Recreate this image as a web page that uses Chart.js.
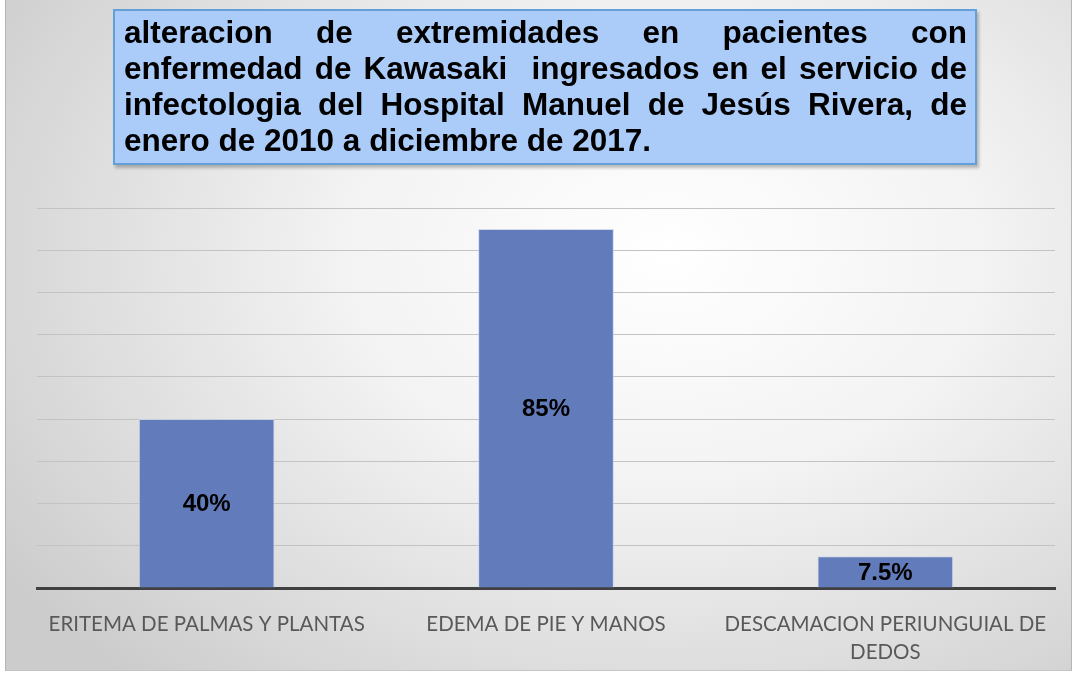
<!DOCTYPE html>
<html>
<head>
<meta charset="utf-8">
<script src="https://cdn.jsdelivr.net/npm/chart.js@4"></script>
<style>
  body { margin: 0; background: #fff; }
  #wrap { position: relative; width: 1075px; height: 673px; overflow: hidden; }
  #panel {
    position: absolute; left: 5px; top: 0; width: 1065px; height: 670px;
    background: radial-gradient(ellipse 75% 85% at 62% 38%, #ffffff 0%, #f3f3f3 40%, #d6d6d6 85%, #cccccc 100%);
    border-left: 1px solid #b5b5b5; border-right: 1px solid #b5b5b5; border-bottom: 1px solid #c5c5c5;
  }
  #titleBox {
    position: absolute; left: 113px; top: 9px; width: 860px; height: 152px;
    background: #abcbf8; border: 2px solid #639fd8;
    box-shadow: 2px 3px 3px rgba(0,0,0,0.25);
  }
  #titleText {
    position: absolute; left: 9px; top: 3px; width: 843px;
    font: bold 31.5px "Liberation Sans", Arial, sans-serif; line-height: 36px;
    color: #000; text-align: justify; text-align-last: left;
  }
  canvas { position: absolute; left: 0; top: 0; }
</style>
</head>
<body>
<div id="wrap">
  <div id="panel"></div>
  <canvas id="firstChart" width="1075" height="673"></canvas>
  <div id="titleBox"><div id="titleText">alteracion de extremidades en pacientes con enfermedad de Kawasaki&nbsp; ingresados en el servicio de infectologia del Hospital Manuel de Jesús Rivera, de enero de 2010 a diciembre de 2017.</div></div>
</div>
<script>
const labels = [
    'ERITEMA DE PALMAS Y PLANTAS',
    'EDEMA DE PIE Y MANOS',
    ['DESCAMACION PERIUNGUIAL DE', 'DEDOS']
];
const values = [40, 85, 7.5];
const valueLabels = ['40%', '85%', '7.5%'];

// labels in the middle of each bar
const barLabels = {
    id: 'barLabels',
    afterDatasetsDraw(chart) {
        const ctx = chart.ctx;
        const meta = chart.getDatasetMeta(0);
        ctx.save();
        ctx.font = 'bold 24px "Liberation Sans", Arial, sans-serif';
        ctx.fillStyle = '#000';
        ctx.textAlign = 'center';
        ctx.textBaseline = 'middle';
        meta.data.forEach((bar, i) => {
            const p = bar.getProps(['x', 'y', 'base'], true);
            ctx.fillText(valueLabels[i], p.x, (p.y + p.base) / 2 + 1);
        });
        ctx.restore();
    }
};

const config = {
    type: 'bar',
    data: {
        labels: labels,
        datasets: [{
            data: values,
            backgroundColor: '#627bbb',
            borderColor: 'rgba(200,210,235,0.8)',
            borderWidth: 1,
            barPercentage: 0.8,
            categoryPercentage: 0.5
        }]
    },
    options: {
        responsive: false,
        animation: false,
        layout: { padding: { top: 208, left: 37, right: 20, bottom: 0 } },
        plugins: {
            legend: { display: false },
            tooltip: { enabled: false }
        },
        scales: {
            x: {
                grid: { display: false },
                border: { color: '#404040', width: 3 },
                afterFit(axis) { axis.height = 85; },
                ticks: {
                    color: '#595959',
                    padding: 14,
                    maxRotation: 0,
                    autoSkip: false,
                    font: { family: 'Lato', size: 20.5, lineHeight: 1.38 }
                }
            },
            y: {
                min: 0,
                max: 90,
                grid: { color: '#c3c3c3', lineWidth: 1, drawTicks: false },
                border: { display: false },
                ticks: { display: false, stepSize: 10 }
            }
        }
    },
    plugins: [barLabels]
};

const firstChart = new Chart(
document.getElementById('firstChart').getContext('2d'),
config
);
</script>
</body>
</html>
